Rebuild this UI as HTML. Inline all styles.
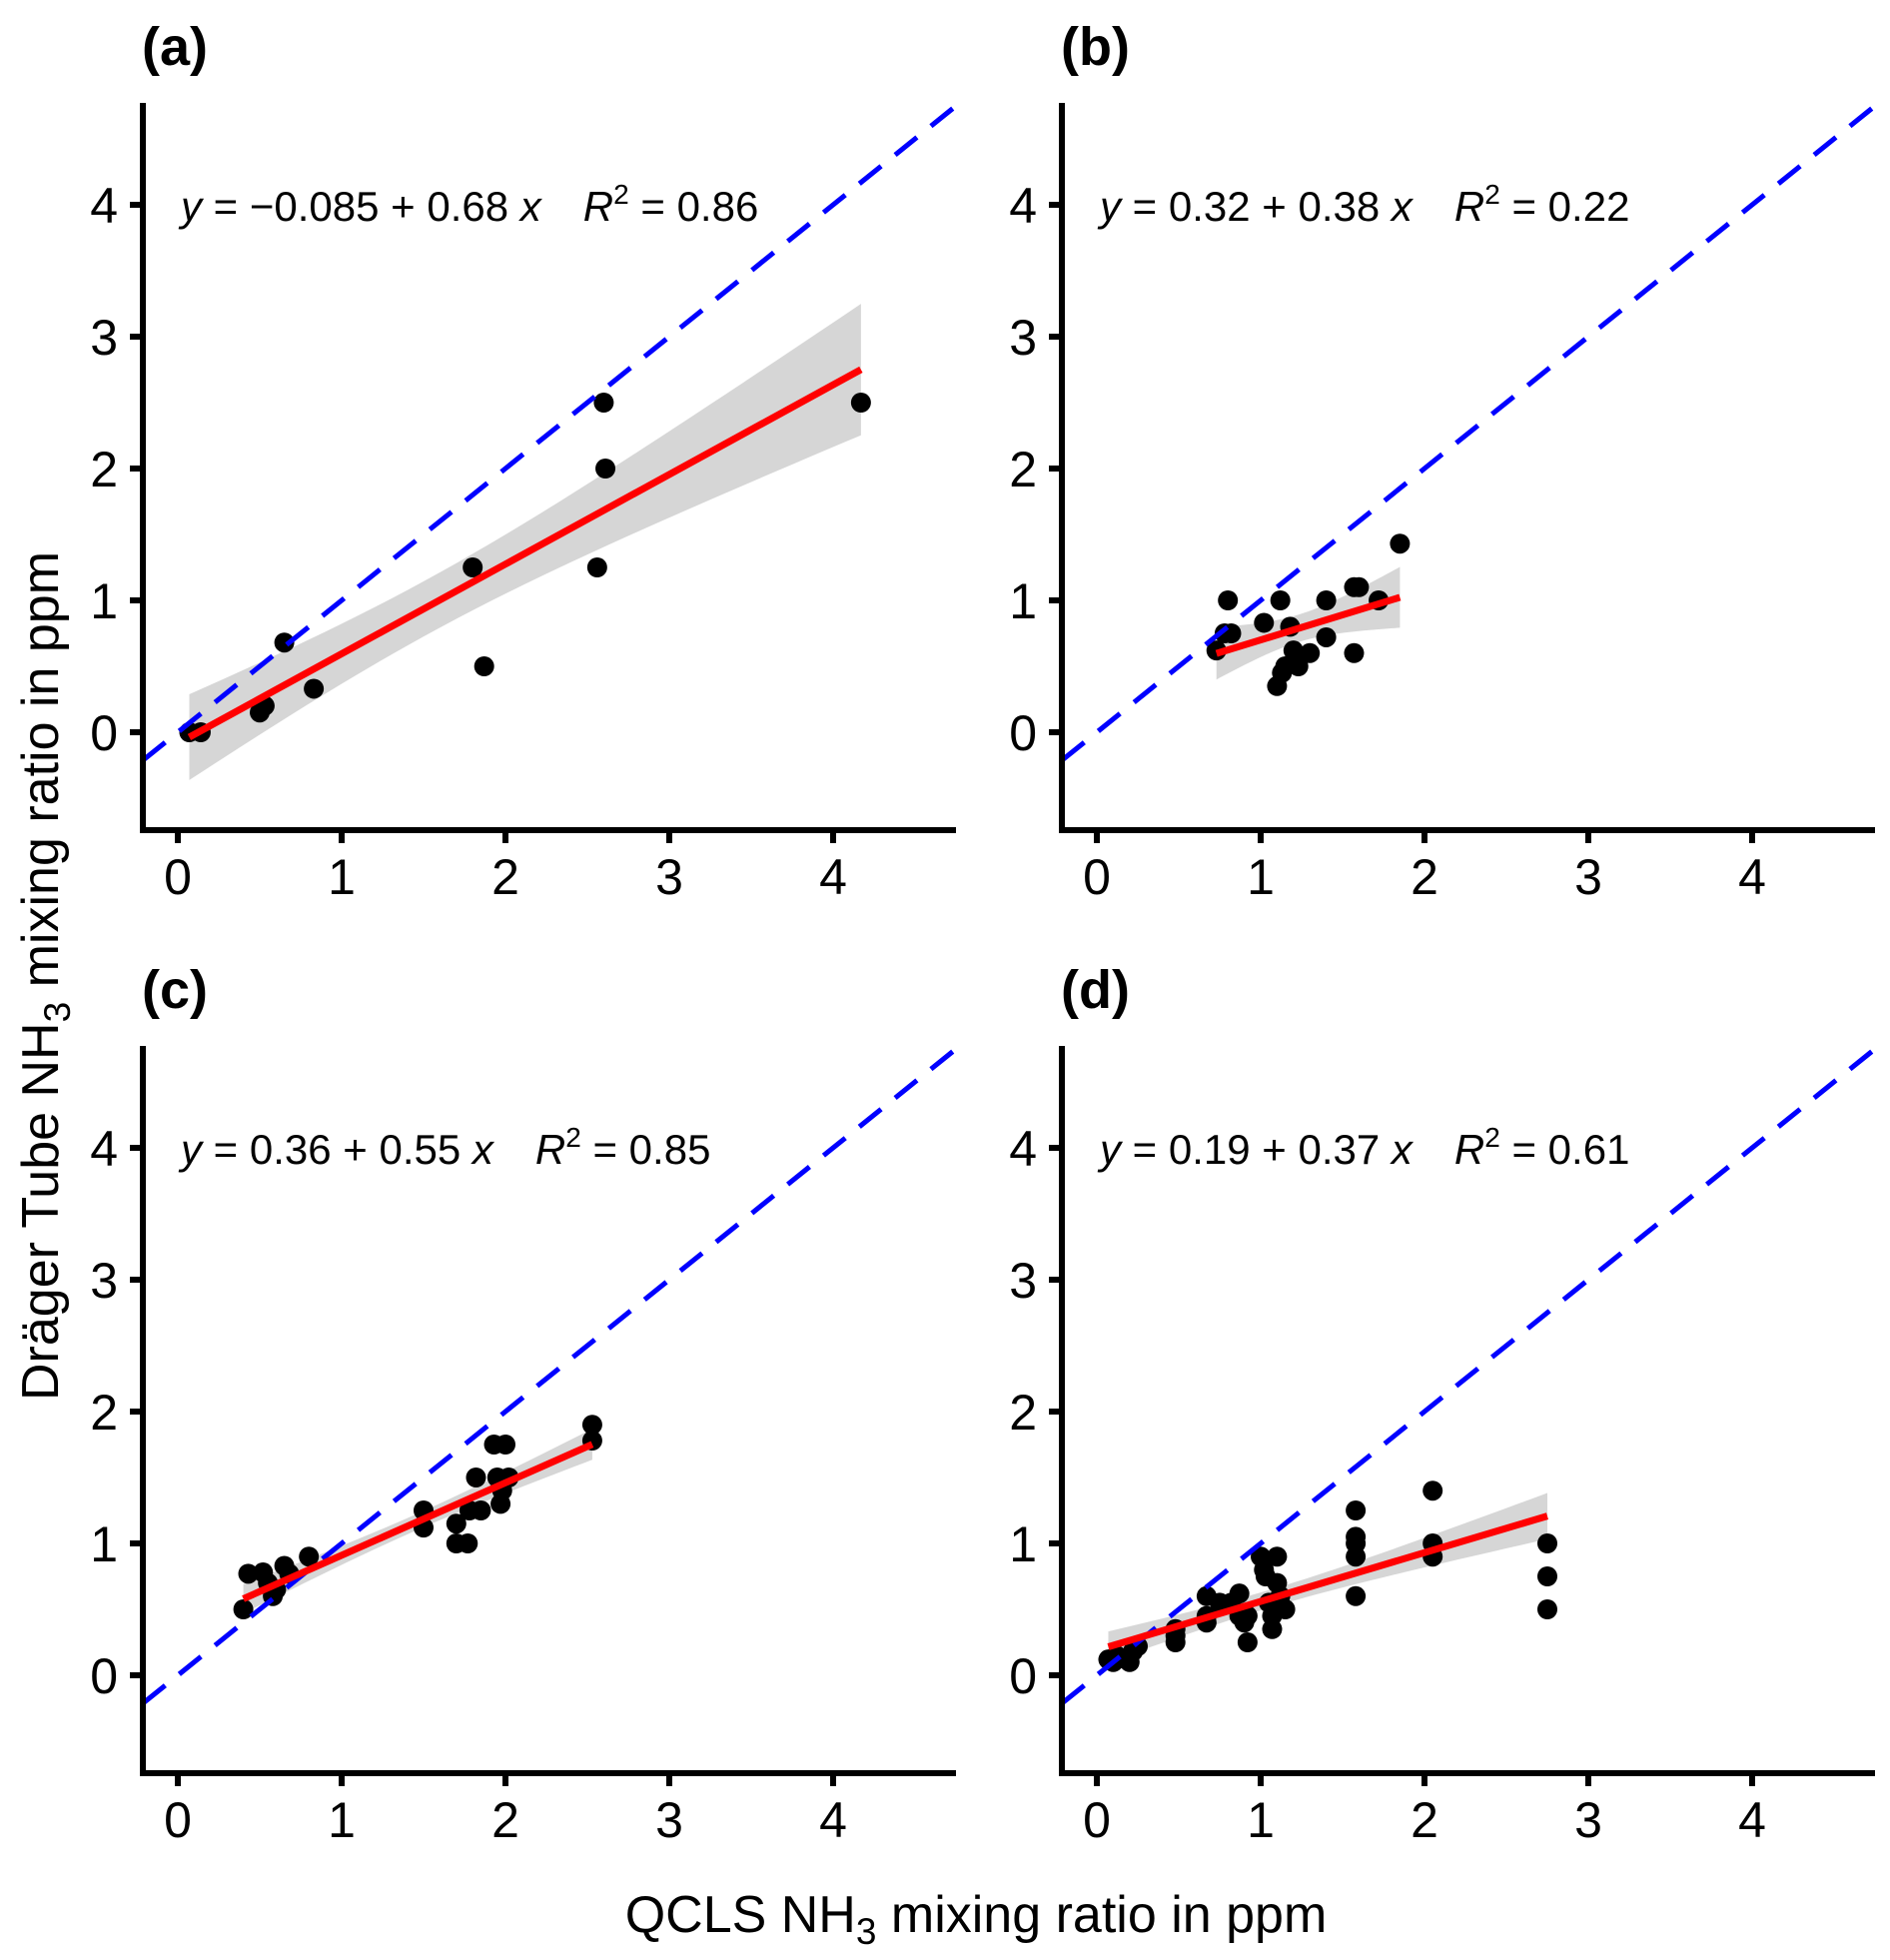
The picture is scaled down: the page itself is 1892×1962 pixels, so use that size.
<!DOCTYPE html>
<html><head><meta charset="utf-8"><style>
html,body{margin:0;padding:0;background:#fff;}
svg{display:block;font-family:"Liberation Sans",Arial,sans-serif;}
</style></head><body>
<svg id="chart" width="1892" height="1962" viewBox="0 0 1892 1962" xmlns="http://www.w3.org/2000/svg"></svg>
<script>
const panelLabels = ["(a)","(b)","(c)","(d)"];
const intercepts = [-0.085, 0.32, 0.36, 0.19];
const slopes = [0.68, 0.38, 0.55, 0.37];
const eqIntercept = ["−0.085", "0.32", "0.36", "0.19"];
const eqSlope = ["0.68", "0.38", "0.55", "0.37"];
const r2Text = ["0.86","0.22","0.85","0.61"];
const xTicks = [0,1,2,3,4];
const yTicks = [0,1,2,3,4];
const xa = [0.07,0.14,0.5,0.53,0.65,0.83,1.8,1.87,2.56,2.6,2.61,4.17];
const ya = [0,0,0.15,0.2,0.68,0.33,1.25,0.5,1.25,2.5,2,2.5];
const xb = [0.73,0.78,0.8,0.82,1.02,1.12,1.1,1.13,1.15,1.18,1.2,1.23,1.3,1.4,1.4,1.57,1.6,1.57,1.72,1.85];
const yb = [0.62,0.75,1.0,0.75,0.83,1.0,0.35,0.45,0.5,0.8,0.62,0.5,0.6,1.0,0.72,1.1,1.1,0.6,1.0,1.43];
const xc = [0.4,0.43,0.52,0.55,0.58,0.6,0.65,0.68,0.8,1.5,1.5,1.7,1.7,1.77,1.78,1.82,1.85,1.93,1.95,1.97,1.98,2.0,2.02,2.53,2.53];
const yc = [0.5,0.77,0.78,0.7,0.6,0.65,0.83,0.77,0.9,1.25,1.12,1.0,1.15,1.0,1.25,1.5,1.25,1.75,1.5,1.3,1.4,1.75,1.5,1.9,1.78];
const xd = [0.07,0.1,0.12,0.15,0.2,0.22,0.25,0.48,0.48,0.48,0.67,0.67,0.67,0.75,0.82,0.87,0.87,0.9,0.92,0.92,1.0,1.02,1.03,1.05,1.07,1.07,1.1,1.1,1.12,1.15,1.58,1.58,1.58,1.58,1.58,2.05,2.05,2.05,2.75,2.75,2.75];
const yd = [0.12,0.1,0.15,0.13,0.1,0.18,0.22,0.35,0.25,0.3,0.6,0.45,0.4,0.55,0.55,0.62,0.45,0.4,0.25,0.45,0.9,0.8,0.75,0.55,0.45,0.35,0.9,0.7,0.6,0.5,1.25,1.05,1.0,0.9,0.6,1.4,1.0,0.9,1.0,0.75,0.5];
const xs = [xa,xb,xc,xd], ys = [ya,yb,yc,yd];

const NS = "http://www.w3.org/2000/svg";
const svg = document.getElementById("chart");
function el(tag, attrs, parent){
  const e = document.createElementNS(NS, tag);
  for (const k in attrs) e.setAttribute(k, attrs[k]);
  (parent||svg).appendChild(e);
  return e;
}
const XMIN=-0.21, XMAX=4.74, YMIN=-0.74, YMAX=4.77;
const UX=164, UY=132;
const origins = [[178,733],[1098,733],[178,1677],[1098,1677]];

for (let p=0;p<4;p++){
  const [ox,oy] = origins[p];
  const sx = v => ox + v*UX;
  const sy = v => oy - v*UY;
  const g = el("g",{});
  
  
  const clipId = "clip"+p;
  const cp = el("clipPath",{id:clipId}, g);
  el("rect",{x:sx(XMIN),y:sy(YMAX),width:sx(XMAX)-sx(XMIN),height:sy(YMIN)-sy(YMAX)},cp);

  const X = xs[p], Y = ys[p], n = X.length;
  const a = intercepts[p], b = slopes[p];
  const mx = X.reduce((s,v)=>s+v,0)/n;
  let sxx=0, sse=0;
  for (let i=0;i<n;i++){ sxx += (X[i]-mx)**2; sse += (Y[i]-a-b*X[i])**2; }
  const se = Math.sqrt(sse/(n-2));
  const tq = n<15 ? 1.8 : 1.9;
  const xmin = Math.min(...X), xmax = Math.max(...X);
  let up=[], lo=[];
  for (let k=0;k<=40;k++){
    const x = xmin + (xmax-xmin)*k/40;
    const h = tq*se*Math.sqrt(1/n + (x-mx)**2/sxx);
    up.push(sx(x)+","+sy(a+b*x+h));
    lo.unshift(sx(x)+","+sy(a+b*x-h));
  }
  const band = el("polygon",{points:up.concat(lo).join(" "),fill:"#999",opacity:"0.4"},g);
  
  

  for (let i=0;i<n;i++){
    const c = el("circle",{cx:sx(X[i]),cy:sy(Y[i]),r:10,fill:"#000"},g);
    
    
  }
  const d = el("line",{x1:sx(XMIN),y1:sy(XMIN),x2:sx(XMAX),y2:sy(XMAX),stroke:"#0000ff","stroke-width":5,"stroke-dasharray":"28 18","clip-path":"url(#"+clipId+")"},g);
  
  
  const f = el("line",{x1:sx(xmin),y1:sy(a+b*xmin),x2:sx(xmax),y2:sy(a+b*xmax),stroke:"#ff0000","stroke-width":7},g);
  
  

  const axL = el("line",{x1:ox-35,y1:oy-630,x2:ox-35,y2:oy+101,stroke:"#000","stroke-width":6},g);
  
  
  const axB = el("line",{x1:ox-38,y1:oy+98,x2:ox+779,y2:oy+98,stroke:"#000","stroke-width":6},g);
  
  
  for (const t of xTicks){
    el("line",{x1:sx(t),y1:oy+98,x2:sx(t),y2:oy+111,stroke:"#000","stroke-width":6},g);
    const tx = el("text",{x:sx(t),y:oy+162,"font-size":50,"text-anchor":"middle",fill:"#000"},g);
    tx.textContent = t;
    
    
  }
  for (const t of yTicks){
    el("line",{x1:ox-48,y1:sy(t),x2:ox-35,y2:sy(t),stroke:"#000","stroke-width":6},g);
    const ty = el("text",{x:ox-60,y:sy(t)+18,"font-size":50,"text-anchor":"end",fill:"#000"},g);
    ty.textContent = t;
    
    
  }
  const lab = el("text",{x:ox-36,y:oy-668,"font-size":54,"font-weight":"bold",fill:"#000"},g);
  lab.textContent = panelLabels[p];
  
  
  const eq = el("text",{x:ox+3,y:oy-512,"font-size":42,fill:"#000"},g);
  
  
  const parts = [["y",1],[" = "+eqIntercept[p]+" + "+eqSlope[p]+" ",0],["x",1]];
  for (const [txt,it] of parts){ const s = el("tspan", it?{"font-style":"italic"}:{}, eq); s.textContent = txt; }
  const t2 = el("tspan",{"dx":42,"font-style":"italic"},eq); t2.textContent = "R";
  const t3 = el("tspan",{"dy":-17,"font-size":28},eq); t3.textContent = "2";
  const t4 = el("tspan",{"dy":17},eq); t4.textContent = " = " + r2Text[p];
}
</script>
<svg style="position:absolute;left:0;top:0" width="1892" height="1962" xmlns="http://www.w3.org/2000/svg" font-family="Liberation Sans, Arial, sans-serif">
  <text transform="translate(58,977) rotate(-90)" font-size="52" text-anchor="middle">Dräger Tube NH<tspan font-size="37" dy="12">3</tspan><tspan dy="-12"> mixing ratio in ppm</tspan></text>
  <text x="977" y="1934" font-size="52" text-anchor="middle">QCLS NH<tspan font-size="37" dy="12">3</tspan><tspan dy="-12"> mixing ratio in ppm</tspan></text>
</svg>
</body></html>
